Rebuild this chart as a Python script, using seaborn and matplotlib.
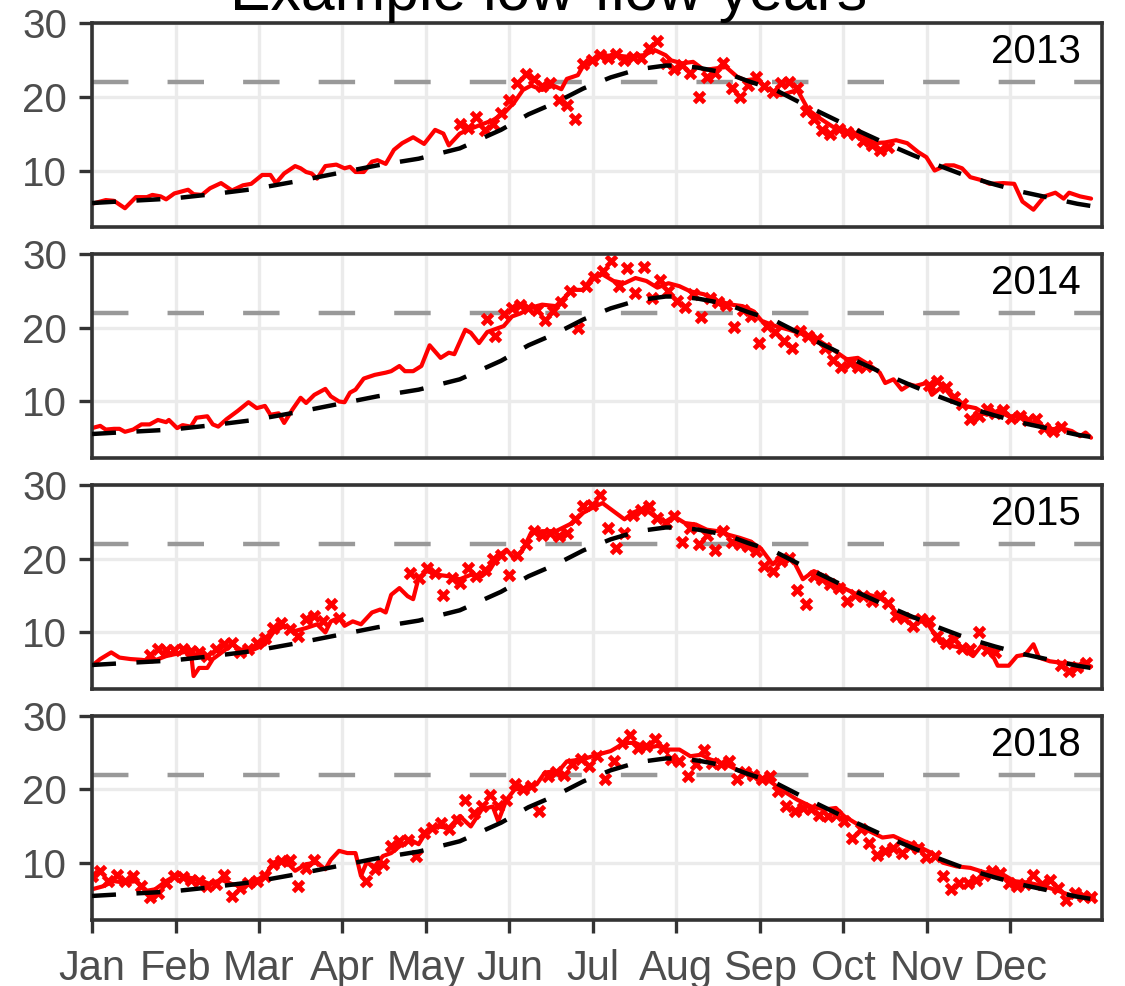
import numpy as np
import pandas as pd
import seaborn as sns
import matplotlib.pyplot as plt

# Panel years
years = [2013, 2014, 2015, 2018]
month_labels = ["Jan", "Feb", "Mar", "Apr", "May", "Jun",
                "Jul", "Aug", "Sep", "Oct", "Nov", "Dec"]

# Long-term mean (black dashed), day of year / temperature
clim_day = [1, 15, 30, 45, 60, 75, 90, 105, 120, 135, 150, 160, 170, 180, 190, 200, 210,
            215, 222, 232, 240, 250, 260, 270, 280, 290, 300, 310, 320, 330, 340, 350, 360, 365]
clim_val = [5.6, 5.9, 6.2, 6.8, 7.5, 8.5, 9.6, 10.7, 11.6, 13.0, 15.5, 17.6, 19.2, 21.1, 22.6, 23.7, 24.2,
            24.2, 23.9, 23.2, 22.1, 20.9, 19.0, 17.2, 15.4, 13.7, 12.1, 10.6, 9.2, 8.1, 7.1, 6.3, 5.5, 5.2]

# Modelled temperature (red line) per year
line_day_2013 = [1, 6, 9, 13, 17, 21, 23, 26, 28, 31, 36, 38, 41, 44, 48, 52, 56, 59, 63, 66,
                 68, 71, 75, 77, 79, 81, 83, 86, 90, 93, 95, 97, 100, 103, 105, 108, 111, 114, 118, 122,
                 126, 129, 131, 135, 138, 142, 147, 151, 155, 158, 161, 165, 169, 172, 174, 178, 180, 185, 191, 196,
                 202, 206, 210, 212, 216, 220, 224, 228, 232, 236, 239, 243, 247, 252, 258, 262, 266, 271, 276, 281,
                 286, 290, 294, 298, 302, 305, 308, 312, 315, 318, 321, 325, 328, 333, 337, 340, 344, 348, 352, 355,
                 357, 361, 365]
line_val_2013 = [5.5, 6.0, 5.9, 4.9, 6.4, 6.4, 6.7, 6.5, 6.1, 6.9, 7.4, 6.8, 6.7, 7.6, 8.3, 7.3, 8.0, 8.2, 9.4, 9.4,
                 8.3, 9.6, 10.6, 10.3, 9.8, 9.6, 8.9, 10.6, 10.8, 10.3, 10.5, 9.8, 9.8, 11.2, 11.4, 10.9, 12.8, 13.7, 14.5, 13.6,
                 15.5, 15.0, 13.4, 15.0, 15.5, 16.1, 16.8, 17.7, 19.3, 20.9, 21.5, 20.9, 21.5, 21.0, 22.4, 22.9, 24.2, 25.4, 25.6, 25.4,
                 25.6, 26.3, 25.6, 24.9, 24.5, 24.7, 23.6, 23.8, 24.0, 22.7, 22.2, 22.4, 21.1, 20.2, 20.9, 18.2, 17.1, 15.9, 15.0, 15.0,
                 13.7, 13.8, 14.1, 13.7, 12.5, 11.8, 10.0, 10.7, 10.7, 10.3, 9.1, 8.7, 8.2, 8.3, 8.2, 5.8, 4.7, 6.5, 7.0, 6.2,
                 7.0, 6.5, 6.2]

line_day_2014 = [1, 4, 6, 9, 11, 13, 16, 19, 22, 25, 28, 29, 32, 34, 37, 39, 43, 45, 47, 50,
                 54, 58, 61, 64, 66, 69, 71, 74, 77, 79, 82, 86, 88, 91, 93, 95, 97, 100, 104, 108,
                 110, 113, 115, 118, 121, 124, 128, 131, 133, 137, 139, 142, 145, 148, 151, 154, 157, 161, 165, 170,
                 176, 180, 183, 187, 191, 195, 199, 203, 207, 211, 215, 219, 224, 229, 234, 238, 242, 245, 250, 255,
                 260, 266, 271, 276, 280, 284, 288, 290, 293, 296, 299, 301, 305, 307, 311, 315, 319, 323, 327, 331,
                 335, 338, 342, 346, 350, 354, 358, 361, 363, 365]
line_val_2014 = [6.4, 6.7, 6.2, 6.3, 6.3, 5.9, 6.2, 6.9, 6.9, 7.5, 7.2, 7.5, 6.4, 6.8, 6.6, 7.8, 8.0, 6.9, 6.6, 7.6,
                 8.7, 9.9, 9.1, 9.4, 8.2, 8.4, 7.1, 8.9, 10.5, 9.8, 10.9, 11.7, 10.7, 10.0, 9.9, 11.2, 11.6, 13.1, 13.6, 13.9,
                 14.1, 14.8, 14.1, 14.1, 14.8, 17.6, 15.9, 16.6, 16.4, 19.7, 19.3, 17.9, 19.4, 19.8, 20.2, 21.5, 21.9, 22.7, 23.1, 22.9,
                 25.1, 25.1, 26.7, 27.2, 26.3, 26.0, 26.7, 26.3, 25.4, 26.0, 25.6, 24.9, 24.5, 23.6, 23.1, 22.9, 22.2, 20.9, 20.2, 19.7,
                 19.1, 18.2, 17.0, 15.7, 15.9, 15.0, 13.9, 12.5, 13.0, 11.6, 12.3, 12.1, 12.5, 10.9, 12.1, 10.3, 9.4, 9.1, 8.2, 8.7,
                 8.0, 8.0, 7.3, 6.7, 6.2, 6.4, 6.0, 5.3, 5.8, 5.1]

line_day_2015 = [1, 4, 8, 11, 15, 19, 23, 28, 34, 37, 38, 40, 43, 45, 49, 52, 56, 60, 64, 67,
                 71, 75, 79, 83, 86, 88, 91, 93, 96, 99, 103, 106, 108, 110, 113, 116, 118, 120, 123, 127,
                 131, 135, 139, 143, 146, 149, 152, 155, 158, 161, 165, 170, 176, 180, 183, 187, 191, 195, 198, 202,
                 206, 210, 213, 217, 221, 225, 229, 233, 237, 241, 245, 249, 252, 256, 260, 264, 268, 272, 276, 280,
                 284, 288, 292, 295, 301, 306, 310, 314, 318, 322, 325, 329, 331, 335, 338, 341, 344, 346, 350, 354,
                 359, 365]
line_val_2015 = [5.5, 6.4, 7.3, 6.6, 6.4, 6.3, 6.1, 6.8, 7.3, 7.5, 4.1, 5.2, 5.2, 6.4, 7.5, 8.4, 7.5, 7.7, 8.4, 10.0,
                 10.9, 10.2, 10.6, 11.1, 10.0, 11.5, 12.0, 10.9, 11.5, 11.1, 12.7, 13.1, 12.7, 15.1, 16.0, 14.9, 14.5, 17.4, 18.3, 17.8,
                 17.6, 17.2, 17.8, 17.6, 18.5, 20.3, 21.2, 19.9, 21.2, 23.5, 23.7, 23.7, 24.8, 26.2, 26.8, 27.5, 26.4, 25.3, 26.2, 26.8,
                 25.7, 25.0, 25.7, 24.8, 24.6, 23.9, 23.7, 23.2, 22.8, 22.3, 21.2, 19.2, 20.3, 20.1, 17.2, 18.3, 17.6, 16.7, 15.8, 15.1,
                 15.1, 14.7, 13.6, 12.2, 12.0, 10.9, 8.6, 8.2, 7.9, 6.8, 8.2, 7.0, 5.5, 5.5, 6.8, 7.0, 8.4, 6.6, 6.1, 5.9,
                 5.7, 5.4]

line_day_2018 = [1, 5, 9, 13, 17, 21, 24, 28, 32, 36, 40, 44, 48, 52, 56, 60, 64, 67, 71, 75,
                 79, 83, 86, 88, 91, 94, 97, 99, 101, 104, 107, 110, 113, 117, 120, 123, 127, 131, 135, 139,
                 143, 147, 149, 152, 155, 159, 163, 166, 171, 174, 180, 185, 190, 195, 199, 203, 207, 211, 215, 219,
                 223, 226, 232, 237, 242, 247, 252, 258, 263, 268, 272, 275, 279, 284, 289, 293, 297, 302, 307, 311,
                 316, 321, 327, 332, 337, 342, 348, 353, 358, 363, 366]
line_val_2018 = [6.5, 6.9, 7.6, 7.4, 7.6, 6.3, 6.5, 7.6, 8.5, 8.1, 7.8, 7.2, 7.8, 7.2, 6.9, 7.6, 8.3, 10.1, 10.5, 9.0,
                 9.9, 10.1, 9.2, 10.5, 11.7, 11.4, 11.4, 8.3, 10.1, 9.6, 11.0, 11.4, 12.3, 13.2, 12.6, 14.4, 15.0, 14.8, 16.4, 15.0,
                 17.3, 17.7, 15.7, 18.6, 20.0, 20.2, 20.7, 22.3, 22.5, 23.8, 24.1, 24.7, 25.2, 26.3, 26.3, 25.6, 25.9, 25.4, 25.4, 24.5,
                 24.7, 24.1, 23.4, 22.5, 21.8, 21.4, 20.0, 18.6, 17.7, 17.3, 17.5, 16.4, 15.5, 14.4, 13.5, 13.7, 13.0, 12.3, 11.4, 10.1,
                 9.6, 9.4, 8.7, 8.7, 7.6, 7.4, 6.9, 6.3, 5.6, 5.4, 5.4]

obs_start_2013 = [135]
obs_val_2013 = [[16.3, 15.8, 17.2, 15.5, 16.3, 17.8, 19.6, 21.8, 23.0, 22.4, 21.4, 21.9, 19.6, 18.8, 17.0,
                 24.4, 25.0, 25.6, 25.2, 25.8, 25.0, 25.4, 25.2, 26.6, 27.5, 24.5, 23.8, 24.3, 23.2, 20.0,
                 22.6, 23.2, 24.5, 21.2, 20.0, 21.6, 22.6, 21.4, 20.6, 21.8, 22.0, 21.2, 18.0, 17.0, 15.5,
                 14.9, 15.6, 15.2, 15.0, 14.0, 13.4, 12.8, 13.2]]

obs_start_2014 = [145, 306]
obs_val_2014 = [[21.2, 18.9, 21.8, 22.6, 23.0, 22.6, 22.4, 21.0, 22.2, 23.5, 25.0, 20.0, 25.6, 26.8, 27.6, 29.0,
                 25.6, 28.0, 24.7, 28.2, 24.0, 26.4, 25.0, 23.6, 22.8, 24.6, 21.4, 24.0, 23.4, 23.0, 20.1, 22.4,
                 21.5, 17.9, 20.2, 19.4, 18.2, 17.2, 19.6, 18.8, 18.4, 17.2, 15.6, 14.6, 15.2, 14.6, 14.8],
                [12.2, 12.8, 11.9, 10.6, 9.6, 7.6, 8.0, 9.0, 8.4, 8.8, 7.8, 8.0, 7.5, 7.6, 6.4, 6.0, 6.6]]

obs_start_2015 = [22, 117, 354]
obs_val_2015 = [[7.0, 7.8, 7.6, 7.6, 7.8, 7.5, 7.3, 6.8, 7.8, 8.4, 8.6, 7.3, 7.8, 8.6, 9.3, 10.6, 11.3, 10.4,
                 9.5, 11.8, 12.2, 11.5, 13.8, 12.0],
                [18.1, 17.4, 18.7, 18.1, 15.1, 17.4, 16.7, 18.7, 17.6, 18.5, 19.9, 20.5, 17.8, 20.5, 21.9, 23.7,
                 23.2, 23.5, 23.0, 23.5, 25.3, 27.1, 27.3, 28.6, 24.1, 21.4, 23.5, 25.9, 26.6, 27.1, 25.5, 24.8,
                 25.7, 22.3, 24.1, 21.9, 23.2, 21.2, 23.7, 22.3, 21.9, 21.7, 21.0, 19.0, 18.3, 19.6, 20.1, 15.8,
                 13.9, 17.6, 17.2, 16.5, 16.0, 14.2, 15.1, 14.9, 14.2, 14.9, 14.0, 12.2, 12.0, 10.9, 11.8, 11.5,
                 9.5, 8.6, 9.1, 7.9, 7.7, 10.0, 7.6, 7.3],
                [5.6, 4.8, 5.3, 5.8]]

obs_start_2018 = [1, 101]
obs_val_2018 = [[8.3, 9.0, 7.6, 8.5, 7.6, 8.3, 6.9, 5.4, 6.0, 7.4, 8.3, 8.1, 7.8, 7.6, 6.9, 7.2, 8.5, 5.6,
                 6.7, 7.4, 7.6, 8.3, 9.9, 10.3, 10.5, 6.9, 9.4, 10.5],
                [7.6, 9.2, 9.9, 12.3, 13.0, 13.2, 11.0, 14.1, 14.8, 15.5, 14.6, 15.9, 18.6, 16.8, 17.7, 19.3,
                 17.7, 18.6, 20.7, 20.0, 20.5, 17.1, 21.8, 22.3, 22.0, 23.4, 24.1, 23.2, 24.5, 21.4, 23.8, 26.3,
                 27.4, 25.6, 25.9, 26.8, 25.6, 24.1, 23.8, 21.8, 23.4, 25.4, 23.6, 23.4, 23.8, 21.4, 22.3, 22.0,
                 21.4, 21.8, 19.8, 17.7, 17.1, 17.5, 17.3, 16.6, 16.4, 16.6, 15.7, 13.5, 14.6, 12.8, 11.2, 11.7,
                 12.1, 11.4, 12.3, 12.1, 10.8, 11.0, 8.3, 6.5, 7.4, 7.4, 7.8, 8.5, 9.0, 8.7, 7.4, 6.9, 7.2, 8.5,
                 7.2, 7.8, 6.7, 5.1, 6.0, 5.6, 5.4]]

THRESHOLD = 22

line_days = {2013: line_day_2013, 2014: line_day_2014, 2015: line_day_2015, 2018: line_day_2018}
line_vals = {2013: line_val_2013, 2014: line_val_2014, 2015: line_val_2015, 2018: line_val_2018}
obs_starts = {2013: obs_start_2013, 2014: obs_start_2014, 2015: obs_start_2015, 2018: obs_start_2018}
obs_vals = {2013: obs_val_2013, 2014: obs_val_2014, 2015: obs_val_2015, 2018: obs_val_2018}


def obs_frame(year):
    parts = []
    for start, vals in zip(obs_starts[year], obs_vals[year]):
        parts.append(pd.DataFrame({"day": start + 3 * np.arange(len(vals)), "temp": vals}))
    return pd.concat(parts, ignore_index=True)


sns.set_theme(style="white")
plt.rcParams["font.family"] = ["Liberation Sans", "DejaVu Sans"]

fig, axes = plt.subplots(4, 1, figsize=(11.25, 9.86), dpi=100, sharex=True)
fig.subplots_adjust(left=0.0818, right=0.9796, top=0.977, bottom=0.0669, hspace=0.1296)

month_pos = 1 + np.arange(12) * 365 / 12
clim = pd.DataFrame({"day": clim_day, "temp": clim_val})

for i, (ax, year) in enumerate(zip(axes, years)):
    ax.axhline(THRESHOLD, color="#999999", linewidth=3.2, linestyle=(0, (8.2, 8.8)), zorder=1.5)

    line = pd.DataFrame({"day": line_days[year], "temp": line_vals[year]})
    sns.lineplot(data=line, x="day", y="temp", color="red", linewidth=3.0, ax=ax, zorder=2)

    sns.scatterplot(data=obs_frame(year), x="day", y="temp", marker="X", s=95,
                    color="red", linewidth=0, ax=ax, zorder=2.5)

    sns.lineplot(data=clim, x="day", y="temp", color="black", linewidth=3.2,
                 linestyle=(0, (5.4, 4.6)), ax=ax, zorder=3)

    ax.text(0.979, 0.803, str(year), transform=ax.transAxes, ha="right",
            va="baseline", fontsize=29, color="black")

    ax.set_xlim(1, 369)
    ax.set_ylim(2.34, 30)
    ax.set_yticks([10, 20, 30])
    ax.set_xticks(month_pos)
    ax.set_xticklabels(month_labels)
    ax.set_xlabel("")
    ax.set_ylabel("")

    ax.grid(True, color="#EBEBEB", linewidth=2.4)
    ax.set_axisbelow(True)
    for sp in ax.spines.values():
        sp.set_color("#333333")
        sp.set_linewidth(2.6)

    ax.tick_params(axis="y", length=9.6, width=2.4, color="#333333",
                   labelcolor="#4D4D4D", labelsize=29, pad=8.4, left=True)
    if i < 3:
        ax.tick_params(axis="x", length=0, labelbottom=False)
    else:
        ax.tick_params(axis="x", length=9.6, width=2.4, color="#333333",
                       labelcolor="#4D4D4D", labelsize=30, pad=11, bottom=True)

fig.text(0.4876, 1 - 10 / 986, "Example low-flow years", ha="center", va="baseline",
         fontsize=43.7, color="black")

fig.savefig("out.png", dpi=100)
plt.close(fig)
